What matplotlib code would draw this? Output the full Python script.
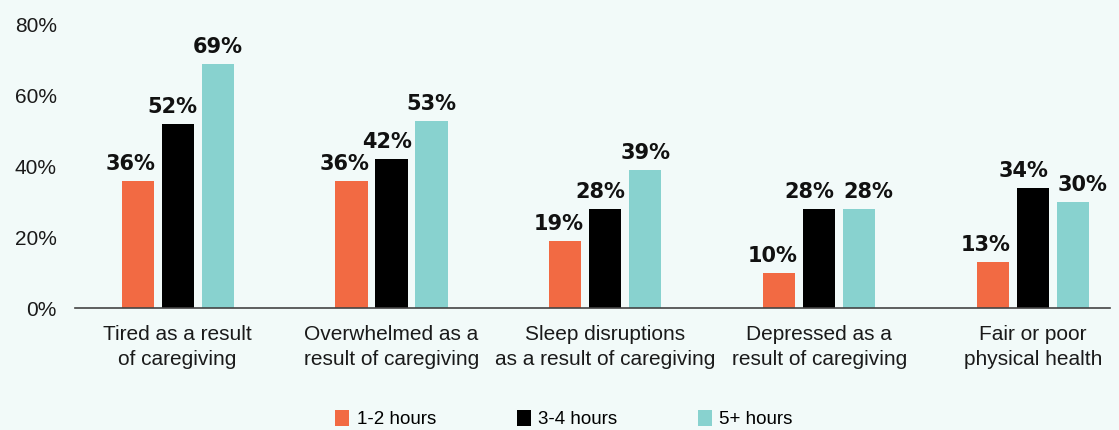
import matplotlib
matplotlib.use("Agg")
import matplotlib.pyplot as plt
from matplotlib.patches import Patch
import numpy as np

plt.rcParams['font.family'] = ['Liberation Sans', 'DejaVu Sans']

categories = ["Tired as a result\nof caregiving",
              "Overwhelmed as a\nresult of caregiving",
              "Sleep disruptions\nas a result of caregiving",
              "Depressed as a\nresult of caregiving",
              "Fair or poor\nphysical health"]
series_names = ["1-2 hours", "3-4 hours", "5+ hours"]
vals_1_2 = [36, 36, 19, 10, 13]
vals_3_4 = [52, 42, 28, 28, 34]
vals_5 = [69, 53, 39, 28, 30]
yticks = [0, 20, 40, 60, 80]
ytick_labels = ["0%", "20%", "40%", "60%", "80%"]

colors = ["#f26a43", "#000000", "#88d2cf"]
bg = "#f2faf9"

fig = plt.figure(figsize=(11.19, 4.30), dpi=100, facecolor=bg)
ax = fig.add_axes([75/1119, 1-308/430, (1110-75)/1119, (308-25)/430])
ax.set_facecolor(bg)

x = np.arange(len(categories))
width = 0.15
step = 0.187
all_vals = [vals_1_2, vals_3_4, vals_5]
base_shift = [-5, -3.5, 0]  # label nudges in points
for i, (vals, c) in enumerate(zip(all_vals, colors)):
    pos = x + (i - 1) * step
    ax.bar(pos, vals, width=width, color=c, zorder=2)
    for j, (p, v) in enumerate(zip(pos, vals)):
        dx = base_shift[i]
        # push apart labels of neighbouring bars with similar heights
        if i == 1 and abs(vals_5[j] - v) <= 5:
            dx = -7
        if i == 2 and abs(vals_3_4[j] - v) <= 5:
            dx = 6.5
        ax.annotate(f"{v}%", xy=(p, v), xytext=(dx, 5), textcoords="offset points",
                    ha="center", va="bottom", fontsize=15, fontweight="bold",
                    color="#111111", family="DejaVu Sans", annotation_clip=False)

ax.set_xlim(-0.48, 4.36)
ax.set_ylim(0, 80)
ax.set_yticks(yticks)
ax.set_yticklabels(ytick_labels, fontsize=15, color="#1a1a1a")
ax.set_xticks(x)
ax.set_xticklabels(categories, fontsize=15, color="#1a1a1a", linespacing=1.4)
ax.tick_params(axis="both", length=0)
ax.tick_params(axis="y", pad=13)
ax.tick_params(axis="x", pad=12)
for s in ["top", "right", "left"]:
    ax.spines[s].set_visible(False)
ax.spines["bottom"].set_color("#444444")
ax.spines["bottom"].set_linewidth(1.2)

handles = [Patch(facecolor=c, label=n) for c, n in zip(colors, series_names)]
fig.legend(handles=handles, loc="center", bbox_to_anchor=(564/1119, 11/430),
           ncol=3, frameon=False, fontsize=13.5, handlelength=0.75, handleheight=1.0,
           handletextpad=0.4, columnspacing=4.3, borderpad=0)

fig.savefig("out.png", dpi=100, facecolor=bg)
